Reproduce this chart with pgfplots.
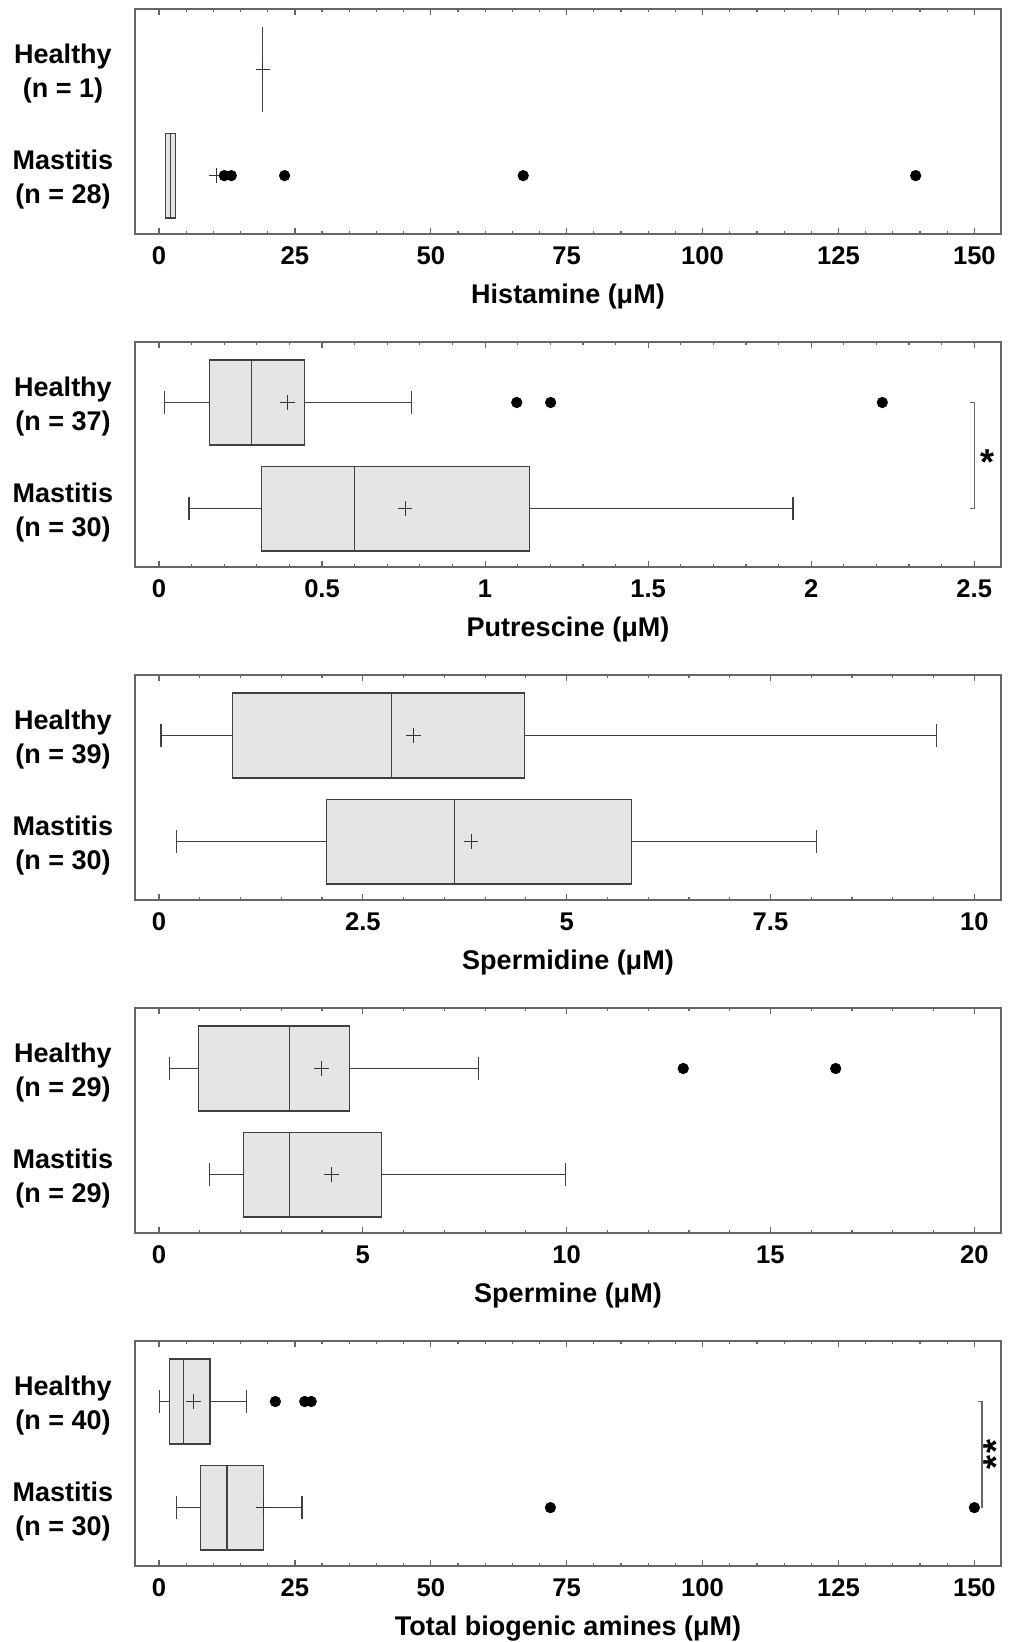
\documentclass[border=0pt]{standalone}
\usepackage{fontspec}
\setmainfont{Liberation Sans}
\usepackage{pgfplots}
\pgfplotsset{compat=1.18}
\usepgfplotslibrary{statistics}
\tikzset{sigstar/.style={font=\bfseries\fontsize{18}{18}\selectfont}}
\pgfplotsset{
  panel/.style={
    scale only axis, width=433pt, height=112.5pt,
    anchor=north west,
    ymin=0.45, ymax=2.57, ytick={1,2},
    ytick style={draw=none},
    boxplot/draw direction=x,
    boxplot/box extend=0.8,
    boxplot/whisker extend=0.22,
    minor x tick num=4,
    major tick length=2.8pt, minor tick length=1.7pt,
    tick style={black!60, line width=0.6pt},
    axis line style={black!60, line width=0.8pt},
    /pgf/number format/assume math mode=true,
    xticklabel style={font=\bfseries\fontsize{12.8}{15}\selectfont, anchor=center, yshift=-11pt},
    yticklabel style={font=\bfseries\fontsize{13.5}{17}\selectfont, align=center, anchor=center, xshift=-36pt, yshift=-2pt},
    xlabel style={font=\bfseries\fontsize{13.5}{16}\selectfont, at={(axis description cs:0.5,0)}, anchor=center, yshift=-31.5pt},
  },
  bx/.style={draw=black!75, fill=black!10, line width=0.6pt},
  meanmk/.style={only marks, mark=+, mark size=3.6pt, black!80, mark options={line width=0.5pt}},
  outl/.style={only marks, mark=*, mark size=2.6pt, black},
  brk/.style={black!60, line width=0.6pt},
}
\begin{document}
\begin{tikzpicture}
\useasboundingbox (-67.5pt,4.5pt) rectangle (444.5pt,-816.5pt);

% Histamine
\begin{axis}[panel, at={(0pt,0pt)},
  xmin=-4.42, xmax=154.9, xtick={0,25,50,75,100,125,150},
  yticklabels={{Mastitis\\(n = 28)},{Healthy\\(n = 1)}},
  xlabel={Histamine (μM)}]
\addplot[bx, boxplot prepared={draw position=2, lower whisker=19.1, lower quartile=19.1, median=19.1, upper quartile=19.1, upper whisker=19.1}] coordinates {};
\addplot[bx, boxplot prepared={draw position=1, lower whisker=1.23, lower quartile=1.23, median=2.15, upper quartile=3.07, upper whisker=3.07}] coordinates {};
\addplot[meanmk] coordinates {(19.1,2) (10.6,1)};
\addplot[outl] coordinates {(12.0,1) (13.3,1) (23.1,1) (67.0,1) (139.2,1)};
\end{axis}

% Putrescine
\begin{axis}[panel, at={(0pt,-166.5pt)},
  xmin=-0.0736, xmax=2.582, xtick={0,0.5,1,1.5,2,2.5},
  yticklabels={{Mastitis\\(n = 30)},{Healthy\\(n = 37)}},
  xlabel={Putrescine (μM)}]
\addplot[bx, boxplot prepared={draw position=2, lower whisker=0.018, lower quartile=0.156, median=0.284, upper quartile=0.446, upper whisker=0.775}] coordinates {};
\addplot[bx, boxplot prepared={draw position=1, lower whisker=0.092, lower quartile=0.314, median=0.600, upper quartile=1.137, upper whisker=1.944}] coordinates {};
\addplot[meanmk] coordinates {(0.394,2) (0.755,1)};
\addplot[outl] coordinates {(1.097,2) (1.201,2) (2.218,2)};
\addplot[brk] coordinates {(2.488,2) (2.5,2) (2.5,1) (2.488,1)};
\node[sigstar, yshift=-3.5pt] at (axis cs:2.54,1.5) {*};
\end{axis}

% Spermidine
\begin{axis}[panel, at={(0pt,-333pt)},
  xmin=-0.294, xmax=10.327, xtick={0,2.5,5,7.5,10},
  yticklabels={{Mastitis\\(n = 30)},{Healthy\\(n = 39)}},
  xlabel={Spermidine (μM)}]
\addplot[bx, boxplot prepared={draw position=2, lower whisker=0.024, lower quartile=0.897, median=2.85, upper quartile=4.48, upper whisker=9.54}] coordinates {};
\addplot[bx, boxplot prepared={draw position=1, lower whisker=0.216, lower quartile=2.05, median=3.62, upper quartile=5.80, upper whisker=8.06}] coordinates {};
\addplot[meanmk] coordinates {(3.12,2) (3.83,1)};
\end{axis}

% Spermine
\begin{axis}[panel, at={(0pt,-499.5pt)},
  xmin=-0.589, xmax=20.655, xtick={0,5,10,15,20},
  yticklabels={{Mastitis\\(n = 29)},{Healthy\\(n = 29)}},
  xlabel={Spermine (μM)}]
\addplot[bx, boxplot prepared={draw position=2, lower whisker=0.256, lower quartile=0.961, median=3.20, upper quartile=4.68, upper whisker=7.83}] coordinates {};
\addplot[bx, boxplot prepared={draw position=1, lower whisker=1.233, lower quartile=2.08, median=3.20, upper quartile=5.46, upper whisker=9.98}] coordinates {};
\addplot[meanmk] coordinates {(3.99,2) (4.23,1)};
\addplot[outl] coordinates {(12.86,2) (16.6,2)};
\end{axis}

% Total
\begin{axis}[panel, at={(0pt,-666pt)},
  xmin=-4.42, xmax=154.9, xtick={0,25,50,75,100,125,150},
  yticklabels={{Mastitis\\(n = 30)},{Healthy\\(n = 40)}},
  xlabel={Total biogenic amines (μM)}]
\addplot[bx, boxplot prepared={draw position=2, lower whisker=0.12, lower quartile=1.92, median=4.56, upper quartile=9.37, upper whisker=16.1}] coordinates {};
\addplot[bx, boxplot prepared={draw position=1, lower whisker=3.24, lower quartile=7.69, median=12.5, upper quartile=19.2, upper whisker=26.3}] coordinates {};
\addplot[meanmk] coordinates {(6.37,2) (19.2,1)};
\addplot[outl] coordinates {(21.4,2) (26.8,2) (28.0,2) (72.0,1) (150.0,1)};
\addplot[brk] coordinates {(150.7,2) (151.4,2) (151.4,1)};
\node[sigstar, rotate=90] at (axis cs:154.0,1.5) {*\kern1.2pt*};
\end{axis}
\end{tikzpicture}
\end{document}
